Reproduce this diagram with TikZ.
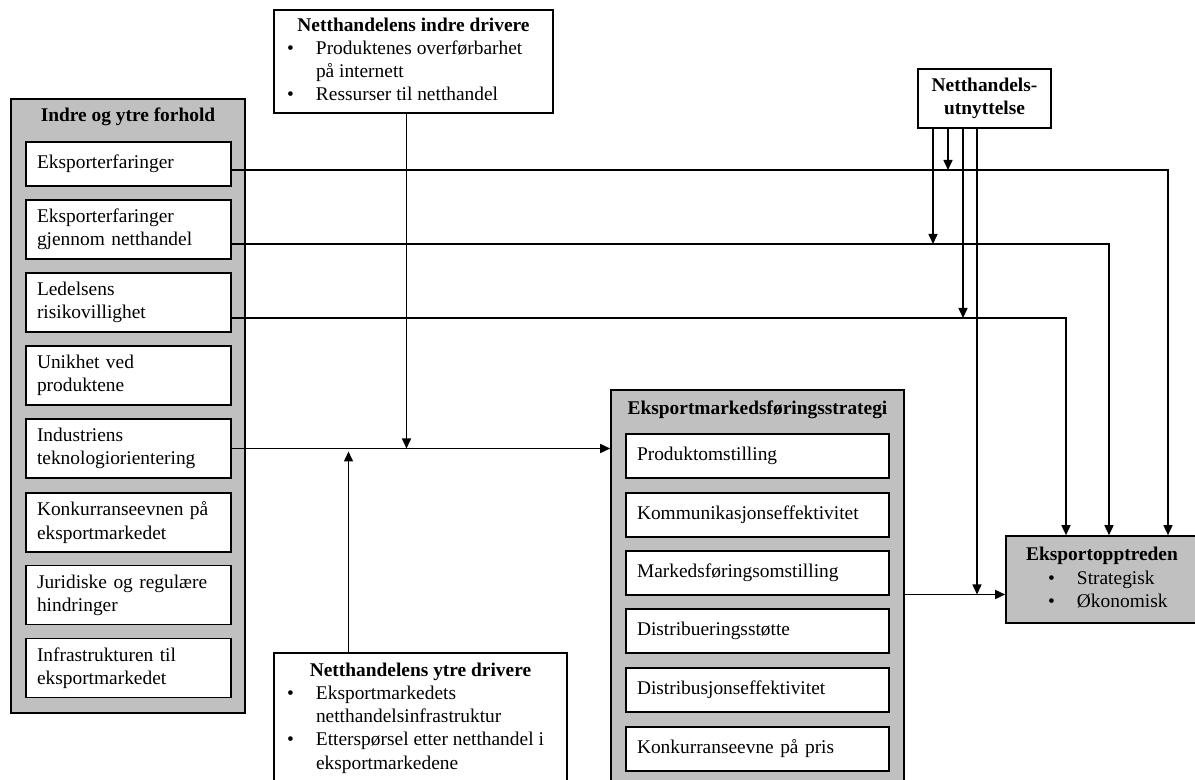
\documentclass[tikz,border=0pt]{standalone}
\usepackage{fontspec}
\setmainfont{Liberation Serif}
\usetikzlibrary{arrows.meta}
\definecolor{panelgray}{HTML}{C0C0C0}

\begin{document}
\begin{tikzpicture}[x=0.5pt,y=-0.5pt,
	every node/.style={font=\fontsize{9.7}{11.6}\selectfont},
	panel/.style={draw,fill=panelgray,line width=0.8pt,inner sep=0pt},
	paneltitle/.style={font=\fontsize{9.7}{11.6}\selectfont\bfseries},
	item/.style={draw,fill=white,line width=0.8pt,align=left,inner xsep=5.5pt,inner ysep=0pt},
	leftitem/.style={item,text width=91.5pt},
	rightitem/.style={item,text width=120.5pt,minimum height=22pt},
	infobox/.style={draw,fill=white,line width=0.8pt,inner sep=0pt},
	conn/.style={draw,line width=0.75pt,-{Triangle[length=5pt,width=4.5pt]}}]
	\useasboundingbox (0,0) rectangle (1195,780);
	\clip (0,0) rectangle (1195,780);

	% left panel
	\node[panel,minimum width=117pt,minimum height=307pt] (forhold) at (128,406) {};
	\node[paneltitle] (forholdtitle) at (128,117) {Indre og ytre forhold};
	\node[leftitem,minimum height=22pt] (erfaring) at (128.5,164) {Eksporterfaringer};
	\node[leftitem,minimum height=29.5pt] (netterfaring) at (128.5,229.5) {Eksporterfaringer\\gjennom netthandel};
	\node[leftitem,minimum height=29.5pt] (risiko) at (128.5,302.5) {Ledelsens\\risikovillighet};
	\node[leftitem,minimum height=29.5pt] (unikhet) at (128.5,375.5) {Unikhet ved\\produktene};
	\node[leftitem,minimum height=29.5pt] (teknologi) at (128.5,448.5) {Industriens\\teknologiorientering};
	\node[leftitem,minimum height=29.5pt] (konkurranse) at (128.5,522.5) {Konkurranseevnen på\\eksportmarkedet};
	\node[leftitem,minimum height=29.5pt] (juridisk) at (128.5,595) {Juridiske og regulære\\hindringer};
	\node[leftitem,minimum height=29.5pt] (infrastruktur) at (128.5,668) {Infrastrukturen til\\eksportmarkedet};

	% middle panel
	\node[panel,minimum width=146.5pt,minimum height=200pt] (strategi) at (757.5,590) {};
	\node[paneltitle] (strategititle) at (757.5,410) {Eksportmarkedsføringsstrategi};
	\node[rightitem] (produkt) at (757.5,456) {Produktomstilling};
	\node[rightitem] (kommunikasjon) at (757.5,515) {Kommunikasjonseffektivitet};
	\node[rightitem] (markedsforing) at (757.5,573) {Markedsføringsomstilling};
	\node[rightitem] (distribuering) at (757.5,631) {Distribueringsstøtte};
	\node[rightitem] (distribusjon) at (757.5,690) {Distribusjonseffektivitet};
	\node[rightitem] (pris) at (757.5,749) {Konkurranseevne på pris};

	% drivers
	\node[infobox,minimum width=139.5pt,minimum height=51.5pt] (indre) at (413.5,61.5) {%
		\begin{tabular}{@{\hspace{6.5pt}}p{14.5pt}@{}p{118.5pt}@{}}
		\multicolumn{2}{@{}c@{}}{\textbf{Netthandelens indre drivere}}\\
		\textbullet & Produktenes overførbarhet\newline på internett\\
		\textbullet & Ressurser til netthandel
		\end{tabular}};
	\node[infobox,minimum width=146.5pt,minimum height=65pt] (ytre) at (420.5,718) {%
		\begin{tabular}{@{\hspace{6.5pt}}p{14.5pt}@{}p{125.5pt}@{}}
		\multicolumn{2}{@{}c@{}}{\textbf{Netthandelens ytre drivere}}\\
		\textbullet & Eksportmarkedets\newline netthandelsinfrastruktur\\
		\textbullet & Etterspørsel etter netthandel i\newline eksportmarkedene
		\end{tabular}};
	\node[infobox,minimum width=66.5pt,minimum height=29.5pt,align=center,font=\fontsize{9.7}{11.6}\selectfont\bfseries] (utnytt) at (984.5,98.5) {Netthandels-\\utnyttelse};

	% result
	\node[infobox,fill=panelgray,minimum width=96pt,minimum height=43.5pt] (opptreden) at (1102,579.5) {%
		\begin{tabular}{@{\hspace{21pt}}p{14.5pt}@{}p{60.5pt}@{}}
		\multicolumn{2}{@{}c@{}}{\textbf{Eksportopptreden}}\\
		\textbullet & Strategisk\\
		\textbullet & Økonomisk
		\end{tabular}};

	% connection points
	\coordinate (a1) at ([yshift=-3pt]erfaring.east);
	\coordinate (a2) at ([yshift=-7.25pt]netterfaring.east);
	\coordinate (a3) at ([yshift=-7.75pt]risiko.east);
	\coordinate (t1) at ([xshift=-18pt]opptreden.north);
	\coordinate (t2) at ([xshift=3.5pt]opptreden.north);
	\coordinate (t3) at ([xshift=33pt]opptreden.north);
	\coordinate (inn) at ([yshift=-7.5pt]opptreden.west);
	\coordinate (d1) at ([xshift=-3.5pt]indre.south);
	\coordinate (d2) at ([xshift=-36pt]ytre.north);
	\coordinate (u1) at ([xshift=-25.75pt]utnytt.south);
	\coordinate (u2) at ([xshift=-18.25pt]utnytt.south);
	\coordinate (u3) at ([xshift=-10.75pt]utnytt.south);
	\coordinate (u4) at ([xshift=-3.75pt]utnytt.south);

	% connectors
	\draw[conn] (a1) -| (t3);
	\draw[conn] (a2) -| (t2);
	\draw[conn] (a3) -| (t1);
	\draw[conn] (teknologi.east) -- (teknologi.east -| strategi.west);
	\draw[conn] (d1) -- (d1 |- teknologi.east);
	\draw[conn,shorten >=1.5pt] (d2) -- (d2 |- teknologi.east);
	\draw[conn] (inn -| strategi.east) -- (inn);
	\draw[conn] (u1) -- (u1 |- a2);
	\draw[conn] (u2) -- (u2 |- a1);
	\draw[conn] (u3) -- (u3 |- a3);
	\draw[conn] (u4) -- (u4 |- inn);
\end{tikzpicture}
\end{document}
